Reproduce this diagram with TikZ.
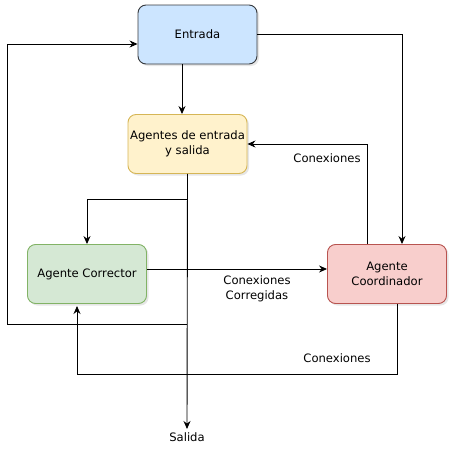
\documentclass[tikz,border=0pt]{standalone}
\usepackage{fontspec}
\setmainfont{DejaVu Sans}
\usetikzlibrary{arrows.meta,shadows}
\definecolor{bluefill}{HTML}{CCE5FF}
\definecolor{bluedraw}{HTML}{36393D}
\definecolor{yelfill}{HTML}{FFF2CC}
\definecolor{yeldraw}{HTML}{D6B656}
\definecolor{grnfill}{HTML}{D5E8D4}
\definecolor{grndraw}{HTML}{82B366}
\definecolor{redfill}{HTML}{F8CECC}
\definecolor{reddraw}{HTML}{B85450}
\tikzset{
  box/.style={rectangle, rounded corners=8pt, minimum width=119pt, minimum height=59pt,
    inner xsep=0pt, align=center, font=\fontsize{11.6}{14.5}\selectfont, line width=0.9pt,
    drop shadow={shadow xshift=2pt, shadow yshift=-2pt, opacity=0.2}},
  conn/.style={line width=0.9pt, -{Stealth[length=8pt,width=7pt]}},
  lbl/.style={font=\fontsize{11.6}{14.5}\selectfont, align=center}
}
\begin{document}
\begin{tikzpicture}[x=1pt,y=-1pt]
\useasboundingbox (0,0) rectangle (455,455);
\node[box, fill=bluefill, draw=bluedraw] (entrada) at (197.5,34.5) {Entrada};
\node[box, fill=yelfill, draw=yeldraw] (agentes) at (187.5,144) {Agentes de entrada\\y salida};
\node[box, fill=grnfill, draw=grndraw] (corrector) at (87,274) {Agente Corrector};
\node[box, fill=redfill, draw=reddraw] (coord) at (387,274) {Agente\\Coordinador};
\node[lbl, anchor=north] (salida) at (187,429) {Salida};
\coordinate (j1) at (187,199);
\coordinate (j2) at (187,324);

\draw[conn] (entrada.south -| 182,0) -- (agentes.north -| 182,0);
\draw[conn] (entrada.east |- 0,34) -- (402,34) -- (coord.north -| 402,0);
\draw[conn] (coord.north -| 367,0) -- (367,144) -- (agentes.east);
\draw[conn] (agentes.south) -- (salida.north);
\draw[conn] (j1) -- (87,199) -- (corrector.north);
\draw[conn] (corrector.east |- 0,269) -- (coord.west |- 0,269);
\draw[conn] (coord.south -| 397,0) -- (397,374) -- (77,374) -- (77,306);
\draw[conn] (j2) -- (7,324) -- (7,44) -- (entrada.west |- 0,44);

\node[lbl] (l1) at (327,158) {Conexiones};
\node[lbl] (l2) at (257,289) {Conexiones\\Corregidas};
\node[lbl] (l3) at (337,358) {Conexiones};
\end{tikzpicture}
\end{document}
